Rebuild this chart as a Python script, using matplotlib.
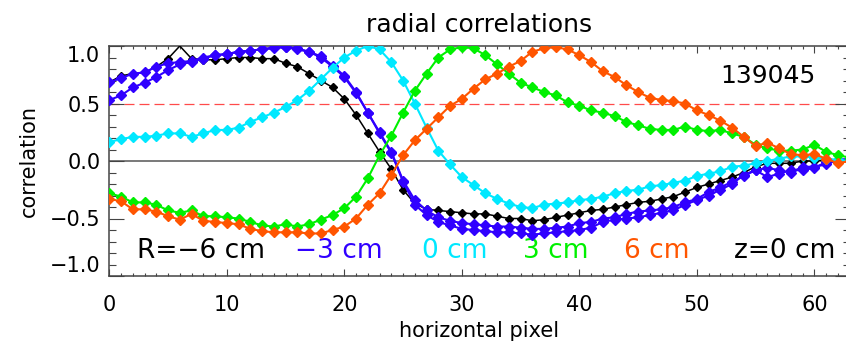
import numpy as np
import matplotlib
matplotlib.use("Agg")
import matplotlib.pyplot as plt

# radial correlation curves, one value per horizontal pixel (0..63)
pixel = np.arange(64)

black = [0.685, 0.74, 0.76, 0.77, 0.82, 0.89, 1.00, 0.89, 0.88, 0.88,
         0.89, 0.90, 0.90, 0.89, 0.89, 0.85, 0.82, 0.76, 0.70, 0.64,
         0.54, 0.40, 0.24, 0.08, -0.07, -0.25, -0.37, -0.42, -0.43, -0.44,
         -0.45, -0.46, -0.46, -0.48, -0.50, -0.50, -0.52, -0.51, -0.49, -0.47,
         -0.45, -0.43, -0.42, -0.40, -0.38, -0.36, -0.35, -0.33, -0.31, -0.27,
         -0.23, -0.20, -0.17, -0.14, -0.10, -0.05, -0.02, -0.02, -0.02, 0.0,
         0.0, 0.01, 0.01, 0.0]

blue_a = [0.685, 0.72, 0.76, 0.77, 0.82, 0.85, 0.86, 0.87, 0.90, 0.92,
          0.93, 0.95, 0.96, 0.97, 0.99, 0.99, 0.97, 0.95, 0.91, 0.83,
          0.74, 0.60, 0.42, 0.25, 0.08, -0.17, -0.34, -0.43, -0.49, -0.52,
          -0.54, -0.55, -0.56, -0.57, -0.57, -0.58, -0.59, -0.59, -0.58, -0.57,
          -0.54, -0.53, -0.50, -0.49, -0.46, -0.44, -0.43, -0.42, -0.40, -0.36,
          -0.33, -0.27, -0.23, -0.18, -0.13, -0.08, -0.14, -0.11, -0.08, -0.08,
          -0.06, -0.01, 0.0, 0.01]

blue_b = [0.53, 0.57, 0.64, 0.68, 0.73, 0.79, 0.84, 0.86, 0.89, 0.92,
          0.93, 0.95, 0.96, 0.97, 0.98, 0.99, 0.98, 0.95, 0.90, 0.82,
          0.73, 0.59, 0.42, 0.24, 0.07, -0.18, -0.38, -0.47, -0.53, -0.56,
          -0.59, -0.60, -0.61, -0.62, -0.62, -0.63, -0.64, -0.63, -0.62, -0.61,
          -0.60, -0.58, -0.53, -0.51, -0.50, -0.49, -0.47, -0.45, -0.43, -0.38,
          -0.34, -0.30, -0.25, -0.20, -0.12, -0.08, -0.06, -0.08, -0.10, -0.05,
          -0.05, -0.03, 0.01, 0.02]

cyan = [0.165, 0.19, 0.21, 0.21, 0.22, 0.24, 0.24, 0.21, 0.24, 0.27,
        0.27, 0.29, 0.34, 0.38, 0.42, 0.47, 0.53, 0.61, 0.71, 0.81,
        0.90, 0.96, 1.00, 0.97, 0.86, 0.70, 0.50, 0.29, 0.09, -0.03,
        -0.14, -0.21, -0.28, -0.33, -0.37, -0.40, -0.41, -0.38, -0.37, -0.36,
        -0.34, -0.33, -0.31, -0.28, -0.26, -0.25, -0.22, -0.21, -0.19, -0.17,
        -0.13, -0.11, -0.09, -0.05, -0.04, -0.02, 0.0, 0.02, 0.04, 0.04,
        0.03, 0.02, 0.01, 0.0]

green = [-0.28, -0.31, -0.36, -0.36, -0.38, -0.43, -0.45, -0.43, -0.48, -0.48,
         -0.49, -0.50, -0.53, -0.56, -0.57, -0.55, -0.57, -0.55, -0.51, -0.47,
         -0.41, -0.31, -0.15, 0.05, 0.22, 0.42, 0.61, 0.76, 0.90, 0.97,
         0.99, 0.98, 0.92, 0.84, 0.76, 0.68, 0.64, 0.60, 0.57, 0.51,
         0.48, 0.44, 0.42, 0.39, 0.34, 0.31, 0.28, 0.27, 0.27, 0.30,
         0.27, 0.26, 0.27, 0.24, 0.21, 0.14, 0.11, 0.09, 0.09, 0.10,
         0.14, 0.08, 0.05, 0.03]

orange = [-0.33, -0.35, -0.42, -0.42, -0.44, -0.48, -0.51, -0.46, -0.52, -0.53,
          -0.54, -0.55, -0.59, -0.61, -0.62, -0.62, -0.62, -0.63, -0.63, -0.60,
          -0.57, -0.50, -0.38, -0.28, -0.12, 0.05, 0.18, 0.28, 0.38, 0.48,
          0.54, 0.63, 0.71, 0.76, 0.82, 0.87, 0.95, 0.98, 0.99, 0.97,
          0.92, 0.86, 0.78, 0.73, 0.66, 0.60, 0.55, 0.53, 0.52, 0.50,
          0.44, 0.40, 0.35, 0.29, 0.21, 0.13, 0.16, 0.11, 0.06, 0.05,
          0.06, 0.02, -0.02, 0.0]

BLUE = "#3000ff"
CYAN = "#00e8ff"
GREEN = "#00f000"
ORANGE = "#ff5500"

legend_labels = ["R=\u22126 cm", "\u22123 cm", "0 cm", "3 cm", "6 cm"]
legend_colors = ["black", BLUE, CYAN, GREEN, ORANGE]
legend_x = [2.36, 15.8, 26.6, 35.2, 43.8]

plt.rcParams["font.family"] = "DejaVu Sans"

fig = plt.figure(figsize=(8.46, 3.46), dpi=100)
ax = fig.add_axes([109.3 / 846, 70 / 346, 740.3 / 846, 230 / 346])

ax.axhline(0.0, color="#555555", lw=1.1, zorder=1)
ax.axhline(0.5, color="#ff4a4a", lw=0.9, dashes=(8, 4), zorder=1)

ax.plot(pixel, black, "-D", color="black", lw=1.1, ms=3.6, zorder=3,
        markevery=[i for i in range(64) if i != 6])
ax.plot(pixel, blue_a, "-D", color=BLUE, lw=1.5, ms=4.6, zorder=4)
ax.plot(pixel, blue_b, "-D", color=BLUE, lw=1.5, ms=4.6, zorder=4)
ax.plot(pixel, cyan, "-D", color=CYAN, lw=1.5, ms=4.6, zorder=4)
ax.plot(pixel, green, "-D", color=GREEN, lw=1.5, ms=4.6, zorder=4)
ax.plot(pixel, orange, "-D", color=ORANGE, lw=1.5, ms=4.6, zorder=4)

ax.set_xlim(0, 63)
ax.set_ylim(-1, 1)
ax.set_xticks(np.arange(0, 61, 10))
ax.set_xticks(np.arange(0, 64, 1), minor=True)
ax.set_yticks([-1.0, -0.5, 0.0, 0.5, 1.0])
ax.set_yticks(np.arange(-1.0, 1.01, 0.1), minor=True)
ax.set_yticklabels(["\u22121.0", "\u22120.5", "0.0", "0.5", "1.0"])

ax.tick_params(axis="both", which="both", direction="in", top=True, right=True,
               color="#444444", width=0.8, labelsize=15)
ax.tick_params(axis="x", which="major", length=5, pad=14)
ax.tick_params(axis="x", which="minor", length=2.5)
ax.tick_params(axis="y", which="major", length=10.5, pad=6.5)
ax.tick_params(axis="y", which="minor", length=5)
ylabels = ax.get_yticklabels()
ylabels[0].set_va("bottom")
ylabels[-1].set_va("top")

for s in ax.spines.values():
    s.set_color("#444444")
    s.set_linewidth(1.1)

ax.set_title("radial correlations", fontsize=18, pad=10)
ax.set_xlabel("horizontal pixel", fontsize=15, labelpad=4)
ax.set_ylabel("correlation", fontsize=15, labelpad=8)

for lab, col, x in zip(legend_labels, legend_colors, legend_x):
    ax.text(x, -0.78, lab, color=col, fontsize=19, va="center", ha="left")
ax.text(53.2, -0.78, "z=0 cm", color="black", fontsize=19, va="center", ha="left")
ax.text(56.06, 0.74, "139045", color="black", fontsize=18, va="center", ha="center")

fig.savefig("out.png", dpi=100)
